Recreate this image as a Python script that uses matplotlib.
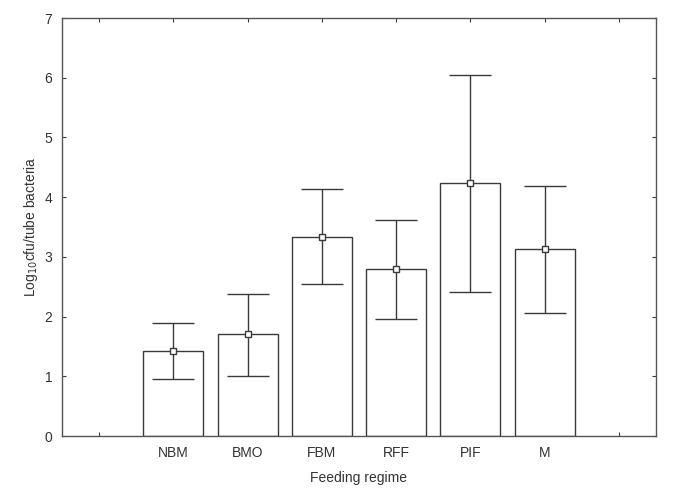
import numpy as np
import matplotlib
matplotlib.use("Agg")
import matplotlib.pyplot as plt

plt.rcParams['font.family'] = ['Liberation Sans', 'DejaVu Sans']

# data
categories = ["", "NBM", "BMO", "FBM", "RFF", "PIF", "M", ""]
groups = ["NBM", "BMO", "FBM", "RFF", "PIF", "M"]
means = [1.42, 1.70, 3.33, 2.80, 4.23, 3.13]
upper = [1.90, 2.38, 4.14, 3.62, 6.05, 4.19]
lower = [0.95, 1.01, 2.54, 1.96, 2.41, 2.06]

col = "#3a3a3a"

fig = plt.figure(figsize=(6.85, 4.99), dpi=100)
ax = fig.add_axes([62/685, 1-436/499, (656-62)/685, (436-18)/499])

pos = np.arange(1, len(groups)+1)
ax.bar(pos, means, width=0.81, color="white", edgecolor=col, linewidth=1.0, zorder=2)
yerr = [np.array(means) - np.array(lower), np.array(upper) - np.array(means)]
ax.errorbar(pos, means, yerr=yerr, fmt='s', color=col, ecolor=col, elinewidth=1.0,
            capsize=15, capthick=1.4, markersize=5, markerfacecolor="white",
            markeredgecolor=col, markeredgewidth=1.0, zorder=3)

ax.set_xlim(-0.5, 7.5)
ax.set_ylim(0, 7)
ax.set_xticks(np.arange(len(categories)))
ax.set_xticklabels(categories)
ax.set_yticks(range(0, 8))
ax.tick_params(direction='in', length=3, width=0.8, color=col, labelsize=10,
               labelcolor="#333333", top=True, right=True, pad=7)
for s in ax.spines.values():
    s.set_color("#555555")
    s.set_linewidth(1.0)

ax.set_xlabel("Feeding regime", fontsize=10, color="#333333", labelpad=8)
ax.set_ylabel("Log$_{10}$cfu/tube bacteria", fontsize=10, color="#333333", labelpad=3)

fig.savefig("out.png", dpi=100)
